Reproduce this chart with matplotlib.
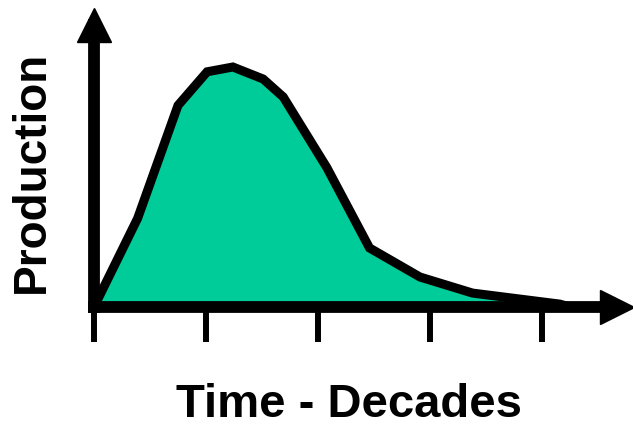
import matplotlib
matplotlib.use('Agg')
import matplotlib.pyplot as plt

# Production curve (time in decades, arbitrary units)
decades = [0, 0.39, 0.75, 1.01, 1.24, 1.51, 1.69, 2.08, 2.46, 2.91, 3.38, 4.16, 4.25]
production = [0, 3.7, 8.4, 9.8, 10.0, 9.5, 8.75, 5.8, 2.46, 1.25, 0.58, 0.12, 0]
decade_ticks = [0, 1, 2, 3, 4]

fill_color = '#00CC99'

fig = plt.figure(figsize=(6.33, 4.24), dpi=100)
ax = fig.add_axes([94 / 633, 117 / 424, 523 / 633, 282 / 424])

ax.fill_between(decades, production, 0, color=fill_color, linewidth=0)
ax.plot(decades, production, color='black', linewidth=6.5, solid_joinstyle='miter')

ax.set_xlim(0, 523 / 112)
ax.set_ylim(0, 282 / 24)

# axes styled as arrows
for side in ['top', 'right']:
    ax.spines[side].set_visible(False)
for side in ['left', 'bottom']:
    ax.spines[side].set_linewidth(8.5)
    ax.spines[side].set_zorder(5)

ax.set_xticks(decade_ticks)
ax.set_xticklabels([])
ax.set_yticks([])
ax.tick_params(axis='x', direction='out', length=25, width=4.3, color='black')

ax.plot(0, 1, marker='^', ms=25, color='black', transform=ax.transAxes, clip_on=False, zorder=6)
ax.plot(1, 0, marker='>', ms=24, color='black', transform=ax.transAxes, clip_on=False, zorder=6)

ax.set_xlabel('Time - Decades', family='Liberation Sans', weight='bold', size=34)
ax.set_ylabel('Production', family='Liberation Sans', weight='bold', size=33)
ax.xaxis.set_label_coords(0.4876, -0.268)
ax.yaxis.set_label_coords(-0.077, 0.479)

fig.savefig('out.png', dpi=100)
